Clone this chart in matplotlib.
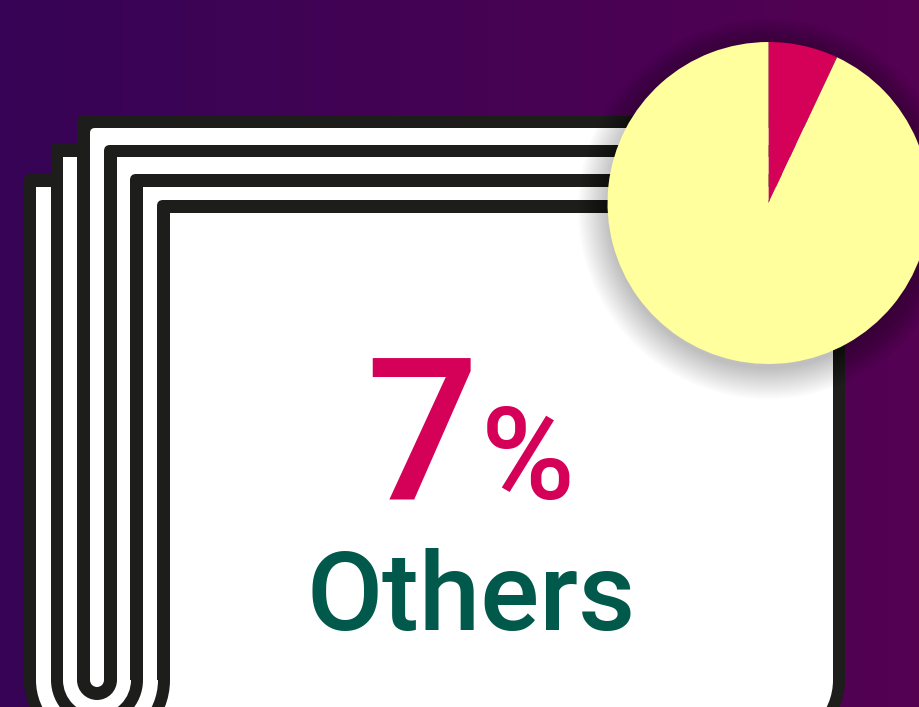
import numpy as np
import matplotlib
matplotlib.use('Agg')
import matplotlib.pyplot as plt
from matplotlib.patches import Circle, PathPatch, Rectangle, Wedge
from matplotlib.path import Path

# Datos del grafico
slice_labels = ['Others', 'Rest']
slice_values = [7, 93]
slice_colors = ['#d50057', '#ffff9d']
big_number = '7'
big_unit = '%'
caption = 'Others'

BLACK = '#1d1d1b'
WHITE = '#ffffff'
W, H = 920, 707

fig = plt.figure(figsize=(W / 100, H / 100), dpi=100)
ax = fig.add_axes([0, 0, 1, 1])
ax.set_xlim(0, W)
ax.set_ylim(H, 0)
ax.axis('off')

# Fondo con degradado horizontal
grad = np.linspace(0, 1, 256).reshape(1, -1, 1)
c0 = np.array([0x36, 0x04, 0x56]) / 255
c1 = np.array([0x54, 0x01, 0x52]) / 255
ax.imshow(c0 + (c1 - c0) * grad, extent=[0, W, H, 0], aspect='auto', zorder=0)
ax.set_xlim(0, W)
ax.set_ylim(H, 0)


# Hoja con la esquina superior izquierda redondeada
def sheet(left, top, right, color, r=0, bottom=680):
    verts = [(left, bottom), (left, top + r), (left, top), (left + r, top),
             (right, top), (right, bottom), (left, bottom)]
    codes = [Path.MOVETO, Path.LINETO, Path.CURVE3, Path.CURVE3,
             Path.LINETO, Path.LINETO, Path.CLOSEPOLY]
    ax.add_patch(PathPatch(Path(verts, codes), fc=color, ec='none', zorder=2))


# (izquierda, arriba, color, radio), de atras hacia delante
layers = [
    (24, 174, BLACK, 6), (36, 187, WHITE, 0),
    (51, 143, BLACK, 6), (63, 157, WHITE, 0),
    (77, 116, BLACK, 6), (90, 128, WHITE, 5),
    (104, 145, BLACK, 6), (117, 157, WHITE, 0),
    (130, 174, BLACK, 6), (143, 187, WHITE, 0),
    (157, 200, BLACK, 6), (170, 213, WHITE, 0),
]
for left, top, color, r in layers:
    sheet(left, top, 845 if color == BLACK else 833, color, r)

# Parte inferior: curvas concentricas
ax.add_patch(Rectangle((160, 680), 612, 30, fc=WHITE, ec='none', zorder=2))
for rad, color in zip([73, 61, 46, 34, 20, 7],
                      [BLACK, WHITE, BLACK, WHITE, BLACK, WHITE]):
    ax.add_patch(Wedge((97, 680), rad, 0, 180, fc=color, ec='none', zorder=3))
ax.add_patch(Wedge((772, 680), 73, 0, 90, fc=BLACK, ec='none', zorder=3))
ax.add_patch(Wedge((772, 680), 61, 0, 90, fc=WHITE, ec='none', zorder=3))

# Sombra del circulo
for rad in np.arange(190, 158, -2):
    ax.add_patch(Circle((768, 209), rad, fc='black', ec='none', alpha=0.014, zorder=4))

# Textos
ax.text(422, 499, big_number, family='Roboto', fontsize=143, fontweight='medium',
        color='#d50057', ha='center', va='baseline', zorder=5)
ax.text(527.5, 499, big_unit, family='Roboto', fontsize=92, fontweight='medium',
        color='#d50057', ha='center', va='baseline', zorder=5)
ax.text(471, 630, caption, family='Roboto', fontsize=79.5, fontweight='medium',
        color='#00594a', ha='center', va='baseline', zorder=5)

# Grafico circular
cx, cy, rad = 768.5, 203, 161
ax_pie = fig.add_axes([(cx - rad) / W, 1 - (cy + rad) / H, 2 * rad / W, 2 * rad / H], zorder=10)
ax_pie.pie(slice_values, colors=slice_colors, startangle=90, counterclock=False,
           radius=1, wedgeprops={'linewidth': 0})
ax_pie.set_xlim(-1, 1)
ax_pie.set_ylim(-1, 1)
ax_pie.axis('off')

fig.savefig('out.png', dpi=100)
